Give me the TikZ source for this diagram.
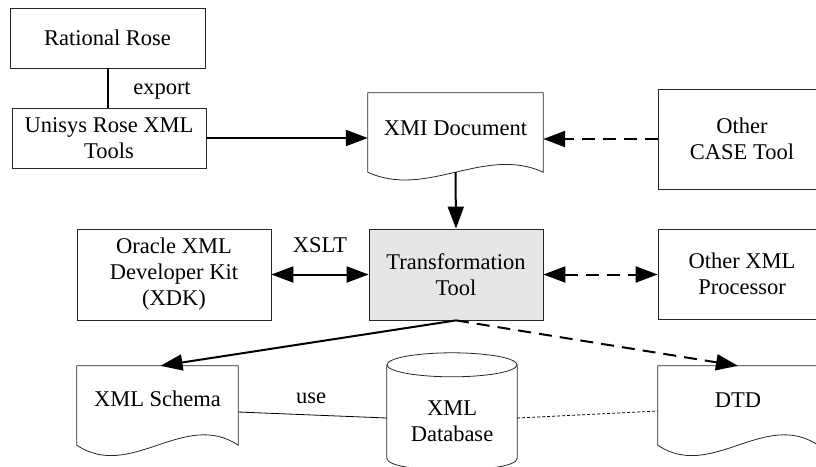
\documentclass[tikz,border=0pt]{standalone}
\usepackage{fontspec}
\setmainfont{Liberation Serif}
\usetikzlibrary{arrows.meta,calc}
\definecolor{boxgray}{RGB}{230,230,230}
\newcommand\figfont{\fontsize{22.5}{26}\selectfont}
\tikzset{
  boxline/.style={draw=black!85, line width=0.8pt},
  box/.style={boxline, rectangle, align=center, inner sep=0pt, font=\figfont},
  docnode/.style={rectangle, align=center, inner sep=0pt, font=\figfont},
  lbl/.style={font=\figfont, inner sep=0pt},
  tip/.style={-{Triangle[length=22pt,width=16pt]}},
  arr/.style={tip, line width=2pt},
  darr/.style={{Triangle[length=22pt,width=16pt]}-{Triangle[length=22pt,width=16pt]}, line width=2pt},
  dashline/.style={dash pattern=on 13pt off 8pt},
  thinline/.style={line width=0.8pt},
}
\newcommand\docframe[3]{% node, extra below south, wave amplitude control
  \path ($(#1.south west)+(0,#2)$) coordinate (dfa)
        ($(#1.south east)+(0,#2)$) coordinate (dfb);
  \draw[boxline] (dfa) -- (#1.north west) -- (#1.north east) -- (dfb)
    .. controls ($(dfa)!2/3!(dfb)+(0,-#3)$) and ($(dfa)!1/3!(dfb)+(0,#3)$) .. (dfa) -- cycle;
}
\begin{document}
\begin{tikzpicture}[x=1pt,y=-1pt]
\path[use as bounding box, clip] (0,0) rectangle (816,466);

% top-left boxes
\node[box, minimum width=195, minimum height=60] (rr) at (107.5,38) {Rational Rose};
\node[box, minimum width=194, minimum height=60] (un) at (109,138) {Unisys Rose XML\\Tools};

% XMI document
\node[docnode, minimum width=175, minimum height=70] (xmi) at (455.5,128) {XMI Document};
\docframe{xmi}{9}{27}

% Other CASE tool
\node[box, minimum width=168, minimum height=100] (case) at (742,139) {Other\\CASE Tool};

% middle row
\node[box, minimum width=194, minimum height=91] (ora) at (174,274.5) {Oracle XML\\Developer Kit\\(XDK)};
\node[box, fill=boxgray, minimum width=174, minimum height=91] (trans) at (456,274.5) {Transformation\\Tool};
\node[box, minimum width=168, minimum height=90] (oxp) at (742,274) {Other XML\\Processor};

% bottom row
\node[docnode, minimum width=161, minimum height=66] (schema) at (157.5,399) {XML Schema};
\docframe{schema}{13}{36}
\node[docnode, minimum width=160, minimum height=68] (dtd) at (738,400) {DTD};
\docframe{dtd}{11}{36}

% database cylinder
\node[rectangle, inner sep=0pt, minimum width=130, minimum height=93] (db) at (452,411.5) {};
\draw[boxline] (db.north west) -- (db.south west)
  .. controls ($(db.south west)+(0,16)$) and ($(db.south east)+(0,16)$) .. (db.south east)
  -- (db.north east);
\draw[boxline] (db.north) ellipse [x radius=65, y radius=12];
\node[lbl, align=center] (dbtext) at (452,421) {XML\\Database};

% labels
\node[lbl] (lexport) at (162,91) {export};
\node[lbl] (lxslt) at (320,245) {XSLT};
\node[lbl] (luse) at (311,398) {use};

% connectors
\draw[line width=2pt] (rr.south) -- (rr.south |- un.north);
\draw[arr] (un.east) -- (un.east -| xmi.west);
\draw[arr, dashline] (case.west) -- (case.west -| xmi.east);
\draw[arr] ([yshift=-9pt]xmi.south) -- (trans.north);
\draw[darr] (ora.east) -- (trans.west);
\draw[darr, dashline] (trans.east) -- (oxp.west |- trans.east);
\draw[arr] (trans.south) -- ([xshift=3pt]schema.north);
\draw[arr, dashline] (trans.south) -- (dtd.north);
\draw[thinline] ([yshift=-13pt]schema.east) -- ([yshift=-6.5pt]db.west);
\draw[thinline, dash pattern=on 3pt off 2pt] ([yshift=-6.5pt]db.east) -- ([yshift=-11pt]dtd.west);
\end{tikzpicture}
\end{document}
